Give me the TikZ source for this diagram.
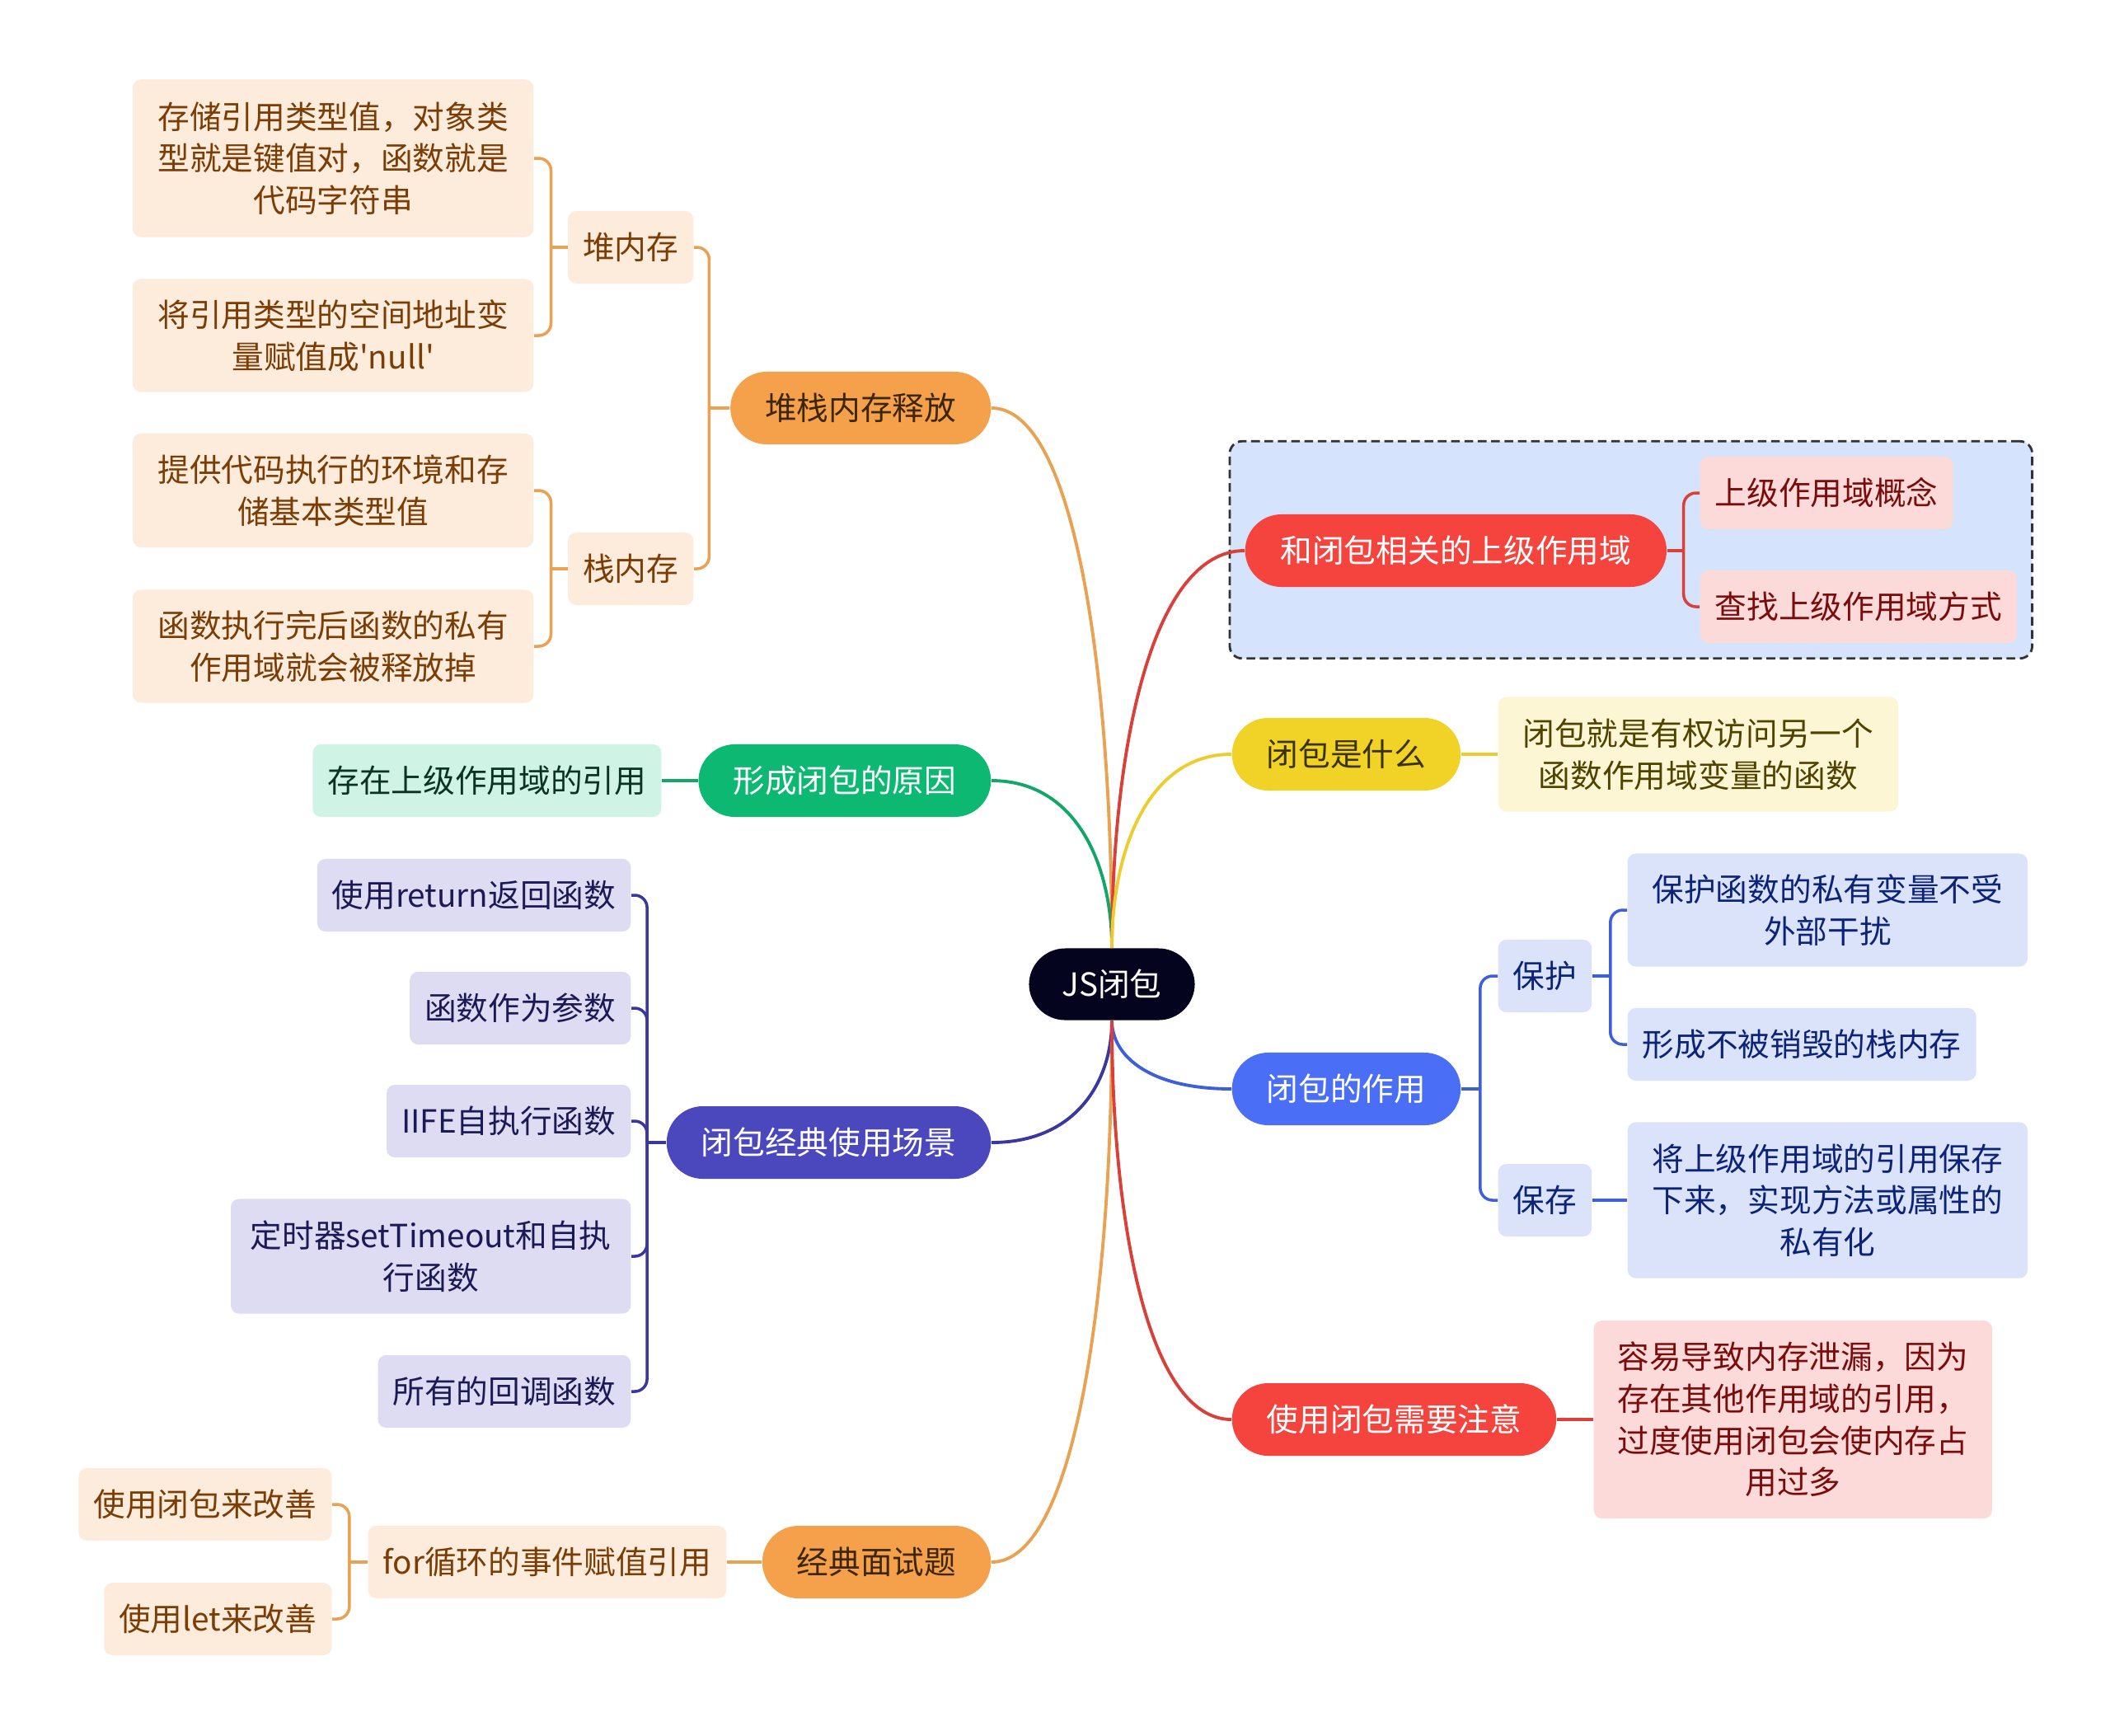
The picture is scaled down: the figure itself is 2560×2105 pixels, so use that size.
\documentclass[tikz,border=0pt]{standalone}
\usepackage{fontspec}
\newfontfamily\cjk{Noto Sans CJK SC}
\usetikzlibrary{calc,fit,backgrounds}
\definecolor{RootInk}{HTML}{05041F}
\definecolor{OrangeMain}{HTML}{F5A04B}
\definecolor{OrangeLine}{HTML}{E9A152}
\definecolor{OrangeSoft}{HTML}{FDEBDB}
\definecolor{OrangeText}{HTML}{7A3D06}
\definecolor{OrangeDark}{HTML}{3D2605}
\definecolor{RedMain}{HTML}{F5433D}
\definecolor{RedLine}{HTML}{D9403A}
\definecolor{RedSoft}{HTML}{FDDADA}
\definecolor{RedText}{HTML}{7A0C0C}
\definecolor{ScopeBg}{HTML}{D5E3FC}
\definecolor{YellowMain}{HTML}{F1D227}
\definecolor{YellowLine}{HTML}{EDCC2E}
\definecolor{YellowSoft}{HTML}{FCF6D4}
\definecolor{YellowText}{HTML}{4F4300}
\definecolor{YellowDark}{HTML}{3A3300}
\definecolor{BlueMain}{HTML}{4A6EF6}
\definecolor{BlueLine}{HTML}{3D5FD8}
\definecolor{BlueSoft}{HTML}{DBE3FB}
\definecolor{BlueText}{HTML}{0D2378}
\definecolor{GreenMain}{HTML}{0DB873}
\definecolor{GreenLine}{HTML}{12A66A}
\definecolor{GreenSoft}{HTML}{CFF3E4}
\definecolor{GreenText}{HTML}{0A3322}
\definecolor{IndigoMain}{HTML}{4B47BD}
\definecolor{IndigoLine}{HTML}{3A37A0}
\definecolor{IndigoSoft}{HTML}{DDDCF3}
\definecolor{IndigoText}{HTML}{1C1A55}

\begin{document}
\begin{tikzpicture}[x=0.01cm, y=-0.01cm,
  every node/.style={font=\cjk\fontsize{11pt}{14.4pt}\selectfont},
  rootbox/.style={fill=RootInk, text=white, rounded corners=0.44cm, minimum height=0.87cm, inner xsep=0.4cm},
  mainbox/.style={rounded corners=0.44cm, minimum height=0.88cm, inner xsep=0.42cm},
  leafbox/.style={rounded corners=0.1cm, minimum height=0.88cm, inner xsep=0.18cm, align=center},
  trunk/.style={line width=1.1pt},
  twig/.style={line width=1pt, rounded corners=0.15cm}]
  \path[use as bounding box] (0,0) rectangle (2560,2105);

  \node[rootbox] (root) at (1349,1194) {JS闭包};

  % right side
  \node[mainbox, fill=RedMain, text=white, anchor=west, minimum width=5.11cm] (r1) at (1510,668) {和闭包相关的上级作用域};
  \node[leafbox, fill=RedSoft, text=RedText, anchor=west] (r1a) at (2062,598) {上级作用域概念};
  \node[leafbox, fill=RedSoft, text=RedText, anchor=west] (r1b) at (2062,736) {查找上级作用域方式};
  \node[mainbox, fill=YellowMain, text=YellowDark, anchor=west] (r2) at (1494,915) {闭包是什么};
  \node[leafbox, fill=YellowSoft, text=YellowText, anchor=west, minimum width=4.85cm, minimum height=1.39cm] (r2a) at (1817,915) {闭包就是有权访问另一个\\函数作用域变量的函数};
  \node[mainbox, fill=BlueMain, text=white, anchor=west] (r3) at (1494,1321) {闭包的作用};
  \node[leafbox, fill=BlueSoft, text=BlueText, anchor=west] (r3a) at (1817,1184) {保护};
  \node[leafbox, fill=BlueSoft, text=BlueText, anchor=west, minimum width=4.85cm, minimum height=1.37cm] (r3a1) at (1974,1104) {保护函数的私有变量不受\\外部干扰};
  \node[leafbox, fill=BlueSoft, text=BlueText, anchor=west] (r3a2) at (1974,1267) {形成不被销毁的栈内存};
  \node[leafbox, fill=BlueSoft, text=BlueText, anchor=west] (r3b) at (1817,1456) {保存};
  \node[leafbox, fill=BlueSoft, text=BlueText, anchor=west, minimum width=4.85cm, minimum height=1.89cm] (r3b1) at (1974,1456) {将上级作用域的引用保存\\下来，实现方法或属性的\\私有化};
  \node[mainbox, fill=RedMain, text=white, anchor=west] (r4) at (1494,1722) {使用闭包需要注意};
  \node[leafbox, fill=RedSoft, text=RedText, anchor=west, minimum width=4.83cm, minimum height=2.4cm] (r4a) at (1933,1722) {容易导致内存泄漏，因为\\存在其他作用域的引用，\\过度使用闭包会使内存占\\用过多};

  % left side
  \node[mainbox, fill=OrangeMain, text=OrangeDark, anchor=east] (l1) at (1203,495) {堆栈内存释放};
  \node[leafbox, fill=OrangeSoft, text=OrangeText, anchor=east] (l1a) at (842,300) {堆内存};
  \node[leafbox, fill=OrangeSoft, text=OrangeText, anchor=east, minimum width=4.86cm, minimum height=1.91cm] (l1a1) at (648,192) {存储引用类型值，对象类\\型就是键值对，函数就是\\代码字符串};
  \node[leafbox, fill=OrangeSoft, text=OrangeText, anchor=east, minimum width=4.86cm, minimum height=1.37cm] (l1a2) at (648,407) {将引用类型的空间地址变\\量赋值成'null'};
  \node[leafbox, fill=OrangeSoft, text=OrangeText, anchor=east] (l1b) at (842,690) {栈内存};
  \node[leafbox, fill=OrangeSoft, text=OrangeText, anchor=east, minimum width=4.86cm, minimum height=1.38cm] (l1b1) at (648,595) {提供代码执行的环境和存\\储基本类型值};
  \node[leafbox, fill=OrangeSoft, text=OrangeText, anchor=east, minimum width=4.86cm, minimum height=1.37cm] (l1b2) at (648,784) {函数执行完后函数的私有\\作用域就会被释放掉};
  \node[mainbox, fill=GreenMain, text=white, anchor=east] (l2) at (1203,947) {形成闭包的原因};
  \node[leafbox, fill=GreenSoft, text=GreenText, anchor=east] (l2a) at (803,947) {存在上级作用域的引用};
  \node[mainbox, fill=IndigoMain, text=white, anchor=east] (l3) at (1203,1386) {闭包经典使用场景};
  \node[leafbox, fill=IndigoSoft, text=IndigoText, anchor=east] (l3a) at (766,1086) {使用return返回函数};
  \node[leafbox, fill=IndigoSoft, text=IndigoText, anchor=east] (l3b) at (766,1223) {函数作为参数};
  \node[leafbox, fill=IndigoSoft, text=IndigoText, anchor=east] (l3c) at (766,1360) {IIFE自执行函数};
  \node[leafbox, fill=IndigoSoft, text=IndigoText, anchor=east, minimum width=4.85cm, minimum height=1.39cm] (l3d) at (766,1524) {定时器setTimeout和自执\\行函数};
  \node[leafbox, fill=IndigoSoft, text=IndigoText, anchor=east] (l3e) at (766,1688) {所有的回调函数};
  \node[mainbox, fill=OrangeMain, text=OrangeDark, anchor=east] (l4) at (1203,1895) {经典面试题};
  \node[leafbox, fill=OrangeSoft, text=OrangeText, anchor=east] (l4a) at (882,1895) {for循环的事件赋值引用};
  \node[leafbox, fill=OrangeSoft, text=OrangeText, anchor=east] (l4a1) at (403,1825) {使用闭包来改善};
  \node[leafbox, fill=OrangeSoft, text=OrangeText, anchor=east] (l4a2) at (403,1964) {使用let来改善};

  \begin{scope}[on background layer]
    \fill[white] (0,0) rectangle (2560,2105);
    \node[fit=(r1)(r1a)(r1b), inner sep=0.18cm, fill=ScopeBg, draw=black!80, line width=0.8pt, dash pattern=on 3pt off 1.6pt, rounded corners=0.15cm] (upbox) {};
  \end{scope}

  % root to main branches
  \foreach \dst/\col in {l1/OrangeLine, l2/GreenLine} {
    \draw[trunk, \col] (root.north) .. controls ($(root.north)!0.5!(root.north |- \dst.east)$) and ($(\dst.east)!0.7!(root.north |- \dst.east)$) .. (\dst.east);
  }
  \foreach \dst/\col in {r1/RedLine, r2/YellowLine} {
    \draw[trunk, \col] (root.north) .. controls ($(root.north)!0.5!(root.north |- \dst.west)$) and ($(\dst.west)!0.7!(root.north |- \dst.west)$) .. (\dst.west);
  }
  \foreach \dst/\col in {l3/IndigoLine, l4/OrangeLine} {
    \draw[trunk, \col] (root.south) .. controls ($(root.south)!0.5!(root.south |- \dst.east)$) and ($(\dst.east)!0.7!(root.south |- \dst.east)$) .. (\dst.east);
  }
  \foreach \dst/\col in {r3/BlueLine, r4/RedLine} {
    \draw[trunk, \col] (root.south) .. controls ($(root.south)!0.5!(root.south |- \dst.west)$) and ($(\dst.west)!0.7!(root.south |- \dst.west)$) .. (\dst.west);
  }

  % brackets
  \draw[twig, OrangeLine] (l1.west) -- ++(-25,0) coordinate (l1j);
  \foreach \dst in {l1a,l1b} {\draw[twig, OrangeLine] (l1j) |- (\dst.east);}
  \draw[twig, OrangeLine] (l1a.west) -- ++(-20,0) coordinate (l1aj);
  \foreach \dst in {l1a1,l1a2} {\draw[twig, OrangeLine] (l1aj) |- (\dst.east);}
  \draw[twig, OrangeLine] (l1b.west) -- ++(-20,0) coordinate (l1bj);
  \foreach \dst in {l1b1,l1b2} {\draw[twig, OrangeLine] (l1bj) |- (\dst.east);}
  \draw[twig, IndigoLine] (l3.west) -- ++(-23,0) coordinate (l3j);
  \foreach \dst in {l3a,l3b,l3c,l3d,l3e} {\draw[twig, IndigoLine] (l3j) |- (\dst.east);}
  \draw[twig, OrangeLine] (l4a.west) -- ++(-22,0) coordinate (l4aj);
  \foreach \dst in {l4a1,l4a2} {\draw[twig, OrangeLine] (l4aj) |- (\dst.east);}
  \draw[twig, RedLine] (r1.east) -- ++(20,0) coordinate (r1j);
  \foreach \dst in {r1a,r1b} {\draw[twig, RedLine] (r1j) |- (\dst.west);}
  \draw[twig, BlueLine] (r3.east) -- ++(23,0) coordinate (r3j);
  \foreach \dst in {r3a,r3b} {\draw[twig, BlueLine] (r3j) |- (\dst.west);}
  \draw[twig, BlueLine] (r3a.east) -- ++(22,0) coordinate (r3aj);
  \foreach \dst in {r3a1,r3a2} {\draw[twig, BlueLine] (r3aj) |- (\dst.west);}

  % single children
  \draw[twig, GreenLine] (l2.west) -- (l2a.east);
  \draw[twig, OrangeLine] (l4.west) -- (l4a.east);
  \draw[twig, YellowLine] (r2.east) -- (r2a.west);
  \draw[twig, BlueLine] (r3b.east) -- (r3b1.west);
  \draw[twig, RedLine] (r4.east) -- (r4a.west);
\end{tikzpicture}
\end{document}
